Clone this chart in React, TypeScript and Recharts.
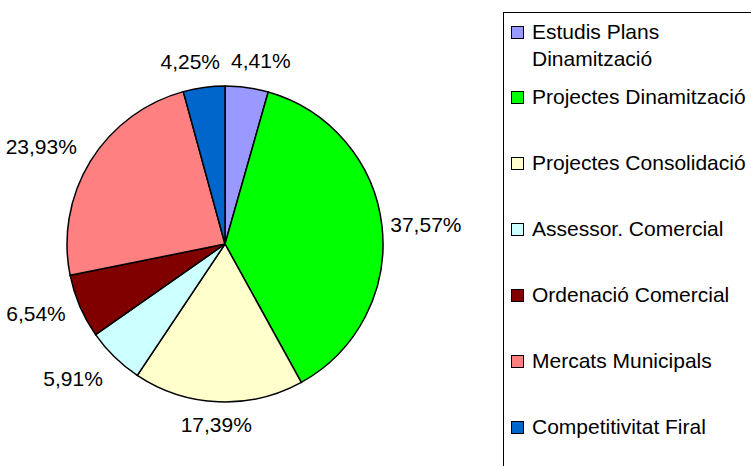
import React from 'react'
import { PieChart, Pie, Cell, Legend } from 'recharts'

const categories = [
  'Estudis Plans Dinamització',
  'Projectes Dinamització',
  'Projectes Consolidació',
  'Assessor. Comercial',
  'Ordenació Comercial',
  'Mercats Municipals',
  'Competitivitat Firal',
]
const shares = [4.41, 37.57, 17.39, 5.91, 6.54, 23.93, 4.25]
const colors = ['#9999FF', '#00FF00', '#FFFFCC', '#CCFFFF', '#800000', '#FF8080', '#0066CC']
// legend text lines (first entry wraps in the original)
const legendLines = [
  ['Estudis Plans', 'Dinamització'],
  ['Projectes Dinamització'],
  ['Projectes Consolidació'],
  ['Assessor. Comercial'],
  ['Ordenació Comercial'],
  ['Mercats Municipals'],
  ['Competitivitat Firal'],
]

const data = categories.map((name, i) => ({ name, value: shares[i] }))

const FONT = '"Liberation Sans", Arial, sans-serif'
const FS = 21
const RAD = Math.PI / 180
const CX = 225
const CY = 244
const R = 158

const fmt = (v: number) => v.toFixed(2).replace('.', ',') + '%'

// rough width of a label in Liberation Sans
const textWidth = (s: string) =>
  s.split('').reduce((w, ch) => w + (ch === ',' ? 0.278 : ch === '%' ? 0.889 : 0.556) * FS, 0)

// label centres, placed outside the pie then pushed apart where they collide
function layoutLabels() {
  const total = shares.reduce((a, b) => a + b, 0)
  let acc = 0
  const pos = shares.map((v) => {
    const sweep = (v / total) * 360
    // clockwise from 12 o'clock, nudged a little toward the horizontal like Excel does
    let theta = acc + sweep / 2
    acc += sweep
    theta += 4 * Math.sin(2 * theta * RAD)
    const ux = Math.sin(theta * RAD)
    const uy = -Math.cos(theta * RAD)
    const w = textWidth(fmt(v))
    const d = R + 5.5 + Math.abs(ux) * (w / 2) + Math.abs(uy) * 15 + 15 * Math.abs(ux * uy)
    return { x: CX + d * ux, y: CY + d * uy, w }
  })
  // resolve horizontal overlap between neighbours on the same row
  for (let i = 0; i < pos.length; i++) {
    const a = pos[i]
    const b = pos[(i + 1) % pos.length]
    if (Math.abs(a.y - b.y) < 18) {
      const need = (a.w + b.w) / 2 + 11
      const gap = Math.abs(a.x - b.x)
      if (gap < need) {
        const push = (need - gap) / 2
        const dir = a.x < b.x ? -1 : 1
        a.x += dir * push
        b.x -= dir * push
      }
    }
  }
  return pos
}
const labelPos = layoutLabels()

function renderLabel(props: any) {
  const { index, value } = props
  const p = labelPos[index]
  return (
    <text
      x={p.x}
      y={p.y}
      textAnchor="middle"
      dominantBaseline="central"
      fontFamily={FONT}
      fontSize={FS}
      fill="#000"
    >
      {fmt(value)}
    </text>
  )
}

function LegendBox() {
  return (
    <div
      style={{
        width: 300,
        height: 470,
        border: '1px solid #000',
        boxSizing: 'border-box',
        paddingTop: 5,
        fontFamily: FONT,
        fontSize: FS,
        color: '#000',
        background: '#fff',
      }}
    >
      {legendLines.map((lines, i) => (
        <div
          key={i}
          style={{
            display: 'flex',
            alignItems: 'flex-start',
            marginTop: i === 0 ? 0 : i === 1 ? 11 : 39,
            lineHeight: '27px',
          }}
        >
          <span
            style={{
              display: 'inline-block',
              width: 11,
              height: 11,
              marginLeft: 7,
              marginTop: 8,
              marginRight: 8,
              border: '1.5px solid #000',
              background: colors[i],
              flex: 'none',
            }}
          />
          <div>
            {lines.map((l, j) => (
              <div key={j} style={{ whiteSpace: 'nowrap' }}>
                {l}
              </div>
            ))}
          </div>
        </div>
      ))}
    </div>
  )
}

export default function App() {
  return (
    <div
      style={{
        position: 'absolute',
        left: 0,
        top: 0,
        width: 751,
        height: 466,
        overflow: 'hidden',
        background: '#fff',
      }}
    >
      <PieChart width={751} height={466} margin={{ top: 0, right: 0, bottom: 0, left: 0 }}>
        <Pie
          data={data}
          dataKey="value"
          nameKey="name"
          cx={CX}
          cy={CY}
          outerRadius={R}
          startAngle={90}
          endAngle={-270}
          stroke="#000"
          strokeWidth={1.5}
          label={renderLabel}
          labelLine={false}
          isAnimationActive={false}
        >
          {data.map((d, i) => (
            <Cell key={d.name} fill={colors[i]} />
          ))}
        </Pie>
        <Legend
          content={() => <LegendBox />}
          wrapperStyle={{ position: 'absolute', left: 503, top: 12, width: 300, height: 470 }}
        />
      </PieChart>
    </div>
  )
}
